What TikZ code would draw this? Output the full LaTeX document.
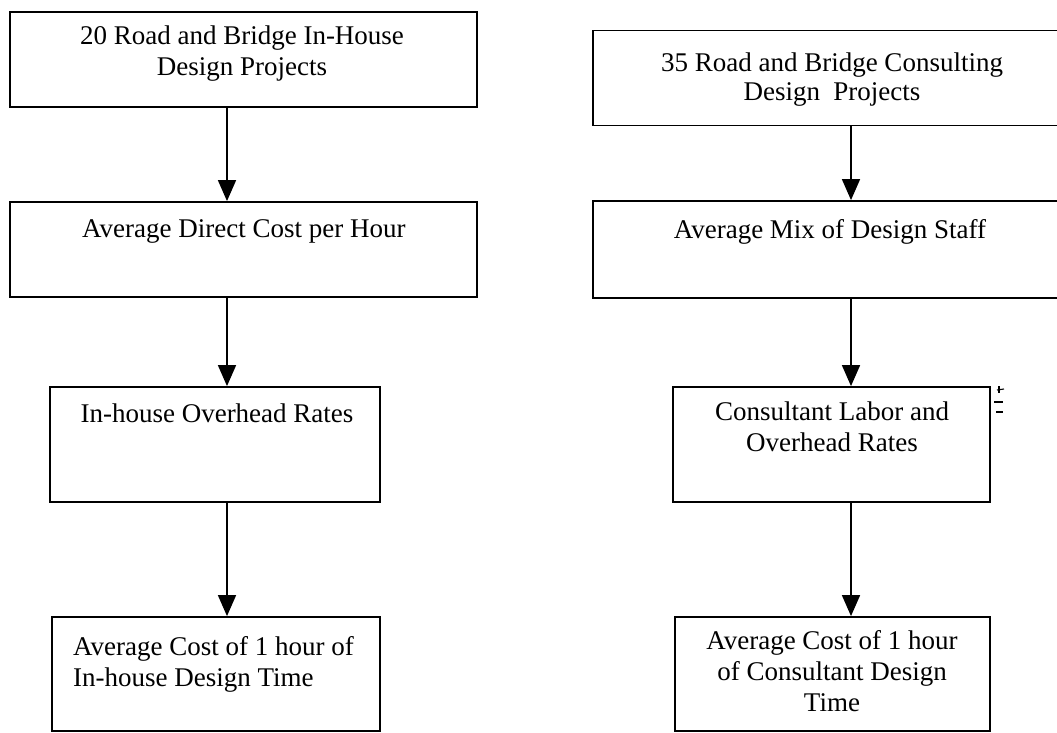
\documentclass[tikz,border=0pt]{standalone}
\usepackage{fontspec}
\setmainfont{Liberation Serif}
\usetikzlibrary{arrows.meta}
\tikzset{
  box/.style={draw, line width=1.8pt, inner sep=0pt, rectangle},
  txt/.style={inner sep=0pt, font=\fontsize{27}{31}\selectfont},
  arr/.style={line width=1.6pt, -{Triangle[width=18pt,length=21pt]}},
  straymark/.style={line width=1.1pt}
}
\begin{document}
\begin{tikzpicture}[x=1pt,y=-1pt]
\useasboundingbox[fill=white] (0,0) rectangle (1057,733);
% left column boxes
\node[box, minimum width=467pt, minimum height=95pt] (l1) at (243.5,59.5) {};
\node[box, minimum width=467pt, minimum height=95pt] (l2) at (243.5,249.5) {};
\node[box, minimum width=330pt, minimum height=115pt] (l3) at (215,444.5) {};
\node[box, minimum width=328pt, minimum height=114pt] (l4) at (216,674) {};
% right column boxes
\node[box, minimum width=477pt, minimum height=95pt] (r1) at (831.5,78) {};
\node[box, minimum width=477pt, minimum height=97pt] (r2) at (831.5,249.5) {};
\node[box, minimum width=317pt, minimum height=115pt] (r3) at (831.5,444.5) {};
\node[box, minimum width=315pt, minimum height=114pt] (r4) at (832.5,674) {};
% texts
\node[txt, align=center, anchor=north] (t1) at (242,26) {20 Road and Bridge In-House\\Design Projects};
\node[txt, anchor=base west] (t2) at (82,237) {Average Direct Cost per Hour};
\node[txt, anchor=base] (t3) at (217,422) {In-house Overhead Rates};
\node[txt, align=left, anchor=north west] (t4) at (73,636.5) {Average Cost of 1 hour of\\In-house Design Time};
\node[txt, align=center, anchor=north, font=\fontsize{27}{29}\selectfont] (t5) at (832,53) {35 Road and Bridge Consulting\\Design\ \ Projects};
\node[txt, anchor=base] (t6) at (830,238) {Average Mix of Design Staff};
\node[txt, align=center, anchor=north] (t7) at (832,402) {Consultant Labor and\\Overhead Rates};
\node[txt, align=center, anchor=north] (t8) at (832,630) {Average Cost of 1 hour\\of Consultant Design\\Time};
% connectors
\coordinate (ax) at (227,0);
\coordinate (bx) at (851,0);
\draw[arr] (l1.south -| ax) -- (l2.north -| ax);
\draw[arr] (l2.south -| ax) -- (l3.north -| ax);
\draw[arr] (l3.south -| ax) -- (l4.north -| ax);
\draw[arr] (r1.south -| bx) -- (r2.north -| bx);
\draw[arr] (r2.south -| bx) -- (r3.north -| bx);
\draw[arr] (r3.south -| bx) -- (r4.north -| bx);
% small stray marks beside the third right box
\draw[straymark] (997,390) -- (1004,389);
\draw[straymark] (999,386) -- (999,393);
\draw[straymark] (994,402) -- (1003,402);
\draw[straymark] (996,412) -- (1003,412);
\end{tikzpicture}
\end{document}
